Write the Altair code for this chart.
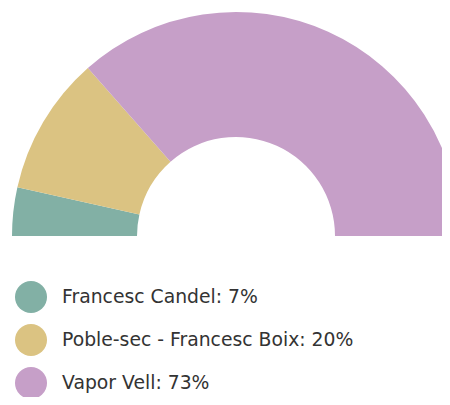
import altair as alt
import pandas as pd

categories = ["Francesc Candel", "Poble-sec - Francesc Boix", "Vapor Vell"]
values = [7, 20, 73]
colors = ["#82b0a5", "#dbc382", "#c69fc8"]

labels = [f"{c}: {v}%" for c, v in zip(categories, values)]
df = pd.DataFrame({"category": categories, "value": values, "label": labels, "order": [0, 1, 2]})

chart = alt.Chart(df).mark_arc(outerRadius=224, innerRadius=99).encode(
    theta=alt.Theta("value:Q", stack=True, scale=alt.Scale(range=[-1.5707963, 1.5707963])),
    order=alt.Order("order:Q"),
    color=alt.Color(
        "label:N",
        scale=alt.Scale(domain=labels, range=colors),
        legend=alt.Legend(
            title=None,
            orient="none",
            legendX=7,
            legendY=273,
            symbolType="circle",
            symbolSize=1024,
            symbolStrokeWidth=0,
            labelFontSize=18.8,
            labelFont="DejaVu Sans",
            labelColor="#333333",
            labelOffset=15,
            rowPadding=11,
            labelLimit=400,
        ),
    ),
    x=alt.value(228),
    y=alt.value(228),
).properties(
    width=434, height=389, padding=0, autosize=alt.AutoSizeParams(type="none")
).configure_view(stroke=None)

chart.save("out.html", embed_options={"renderer": "svg", "actions": False})
